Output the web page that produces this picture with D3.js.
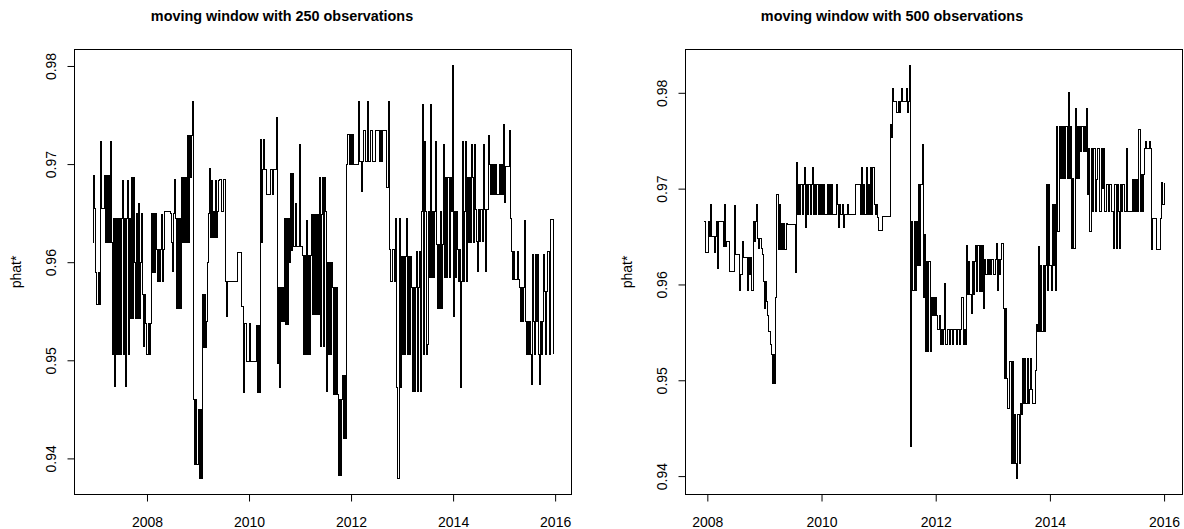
<!DOCTYPE html>
<html>
<head>
<meta charset="utf-8">
<script src="https://cdn.jsdelivr.net/npm/d3@7"></script>
<style>
  html, body { margin: 0; padding: 0; background: #fff; }
  svg { display: block; font-family: 'Liberation Sans', Arial, Helvetica, sans-serif; }
</style>
</head>
<body>
<div id="chart"><svg width="1184" height="529"></svg></div>
<script>
// phat* series, one value every STEP years from the start year
const STEP = 0.02;
const LEFT_START = 2006.94;
const RIGHT_START = 2007.94;

const LEFT_VALUES = [
  .9620,.9688,.9655,.9590,.9557,.9590,.9557,.9723,.9655,.9655,
  .9655,.9688,.9620,.9688,.9620,.9688,.9620,.9723,.9620,.9506,
  .9645,.9473,.9645,.9506,.9645,.9506,.9645,.9506,.9645,.9683,
  .9506,.9645,.9473,.9645,.9683,.9506,.9645,.9543,.9686,.9543,
  .9686,.9600,.9543,.9650,.9543,.9660,.9543,.9600,.9650,.9567,
  .9514,.9567,.9538,.9506,.9538,.9506,.9538,.9650,.9590,.9650,
  .9590,.9650,.9613,.9580,.9613,.9580,.9613,.9649,.9580,.9613,
  .9652,.9652,.9652,.9652,.9652,.9652,.9650,.9620,.9591,.9650,
  .9684,.9645,.9553,.9645,.9553,.9645,.9553,.9686,.9620,.9686,
  .9620,.9686,.9620,.9729,.9620,.9729,.9686,.9729,.9764,.9460,
  .9394,.9460,.9394,.9450,.9380,.9450,.9380,.9567,.9513,.9567,
  .9513,.9540,.9600,.9650,.9696,.9625,.9683,.9625,.9652,.9625,
  .9683,.9625,.9652,.9683,.9684,.9684,.9652,.9652,.9684,.9684,
  .9580,.9545,.9580,.9580,.9580,.9580,.9580,.9580,.9580,.9580,
  .9580,.9580,.9610,.9610,.9610,.9610,.9555,.9555,.9467,.9537,
  .9537,.9499,.9499,.9537,.9499,.9499,.9499,.9499,.9499,.9499,
  .9535,.9467,.9535,.9467,.9725,.9620,.9694,.9725,.9694,.9694,
  .9669,.9669,.9669,.9669,.9694,.9694,.9669,.9694,.9694,.9694,
  .9747,.9497,.9574,.9472,.9574,.9540,.9574,.9540,.9645,.9536,
  .9645,.9536,.9645,.9600,.9690,.9612,.9690,.9616,.9616,.9660,
  .9616,.9616,.9720,.9616,.9616,.9607,.9506,.9607,.9506,.9642,
  .9506,.9607,.9506,.9607,.9649,.9547,.9649,.9547,.9649,.9547,
  .9649,.9547,.9686,.9514,.9649,.9686,.9514,.9686,.9652,.9468,
  .9600,.9506,.9600,.9506,.9600,.9574,.9465,.9574,.9465,.9574,
  .9465,.9383,.9460,.9383,.9460,.9485,.9420,.9485,.9420,.9700,
  .9730,.9700,.9730,.9700,.9730,.9700,.9700,.9700,.9700,.9700,
  .9764,.9703,.9703,.9672,.9703,.9734,.9734,.9703,.9703,.9764,
  .9703,.9703,.9734,.9734,.9703,.9703,.9703,.9734,.9734,.9734,
  .9734,.9703,.9734,.9703,.9734,.9734,.9734,.9734,.9676,.9676,
  .9764,.9613,.9580,.9580,.9613,.9613,.9580,.9645,.9472,.9380,
  .9645,.9472,.9606,.9506,.9606,.9506,.9606,.9645,.9506,.9606,
  .9506,.9606,.9574,.9468,.9574,.9468,.9574,.9611,.9468,.9574,
  .9611,.9468,.9652,.9761,.9506,.9723,.9652,.9506,.9516,.9652,
  .9584,.9761,.9584,.9652,.9584,.9652,.9723,.9618,.9553,.9618,
  .9553,.9652,.9553,.9618,.9720,.9584,.9686,.9584,.9686,.9584,
  .9686,.9652,.9800,.9545,.9652,.9584,.9652,.9613,.9580,.9613,
  .9472,.9580,.9723,.9580,.9652,.9723,.9580,.9686,.9620,.9686,
  .9620,.9720,.9686,.9620,.9720,.9654,.9621,.9591,.9654,.9621,
  .9654,.9654,.9621,.9720,.9654,.9591,.9654,.9654,.9729,.9700,
  .9669,.9700,.9669,.9700,.9669,.9700,.9669,.9669,.9700,.9669,
  .9700,.9669,.9740,.9661,.9698,.9698,.9698,.9698,.9734,.9645,
  .9611,.9582,.9611,.9582,.9582,.9582,.9611,.9582,.9574,.9540,
  .9574,.9540,.9574,.9642,.9540,.9506,.9540,.9506,.9540,.9506,
  .9475,.9608,.9540,.9506,.9608,.9540,.9608,.9506,.9475,.9540,
  .9506,.9540,.9608,.9570,.9506,.9570,.9611,.9506,.9644,.9644,
  .9644,.9506,
];

const RIGHT_VALUES = [
  .9666,.9633,.9633,.9633,.9666,.9650,.9683,.9650,.9650,.9633,
  .9650,.9666,.9617,.9666,.9666,.9666,.9666,.9640,.9683,.9640,
  .9645,.9645,.9614,.9614,.9614,.9614,.9614,.9682,.9631,.9631,
  .9631,.9594,.9610,.9610,.9645,.9628,.9628,.9628,.9594,.9628,
  .9610,.9628,.9594,.9666,.9645,.9666,.9683,.9648,.9638,.9648,
  .9638,.9631,.9603,.9575,.9603,.9582,.9568,.9551,.9537,.9527,
  .9497,.9527,.9497,.9586,.9694,.9636,.9683,.9636,.9664,.9636,
  .9664,.9636,.9664,.9663,.9663,.9663,.9663,.9663,.9663,.9663,
  .9612,.9727,.9673,.9704,.9673,.9704,.9673,.9704,.9722,.9659,
  .9704,.9673,.9704,.9673,.9704,.9722,.9673,.9704,.9673,.9704,
  .9673,.9704,.9673,.9704,.9673,.9704,.9673,.9673,.9704,.9673,
  .9704,.9673,.9704,.9673,.9673,.9673,.9704,.9683,.9659,.9683,
  .9673,.9683,.9659,.9673,.9673,.9673,.9683,.9673,.9673,.9673,
  .9673,.9673,.9673,.9704,.9704,.9704,.9704,.9673,.9722,.9673,
  .9704,.9673,.9722,.9673,.9704,.9673,.9722,.9673,.9722,.9683,
  .9673,.9683,.9670,.9656,.9656,.9656,.9671,.9671,.9671,.9671,
  .9671,.9671,.9671,.9767,.9753,.9804,.9791,.9791,.9791,.9779,
  .9791,.9779,.9791,.9804,.9791,.9791,.9791,.9804,.9779,.9791,
  .9828,.9431,.9666,.9594,.9666,.9594,.9666,.9620,.9704,.9620,
  .9704,.9746,.9586,.9652,.9530,.9624,.9530,.9624,.9530,.9586,
  .9568,.9586,.9568,.9586,.9568,.9553,.9568,.9537,.9553,.9537,
  .9553,.9601,.9537,.9553,.9553,.9537,.9553,.9553,.9537,.9553,
  .9553,.9537,.9553,.9553,.9537,.9553,.9586,.9537,.9553,.9537,
  .9641,.9589,.9624,.9589,.9570,.9624,.9589,.9624,.9641,.9593,
  .9641,.9593,.9641,.9593,.9641,.9575,.9626,.9610,.9626,.9610,
  .9626,.9610,.9626,.9626,.9610,.9626,.9643,.9594,.9626,.9610,
  .9626,.9643,.9575,.9502,.9575,.9502,.9471,.9471,.9520,.9413,
  .9520,.9413,.9464,.9413,.9398,.9464,.9413,.9476,.9464,.9523,
  .9476,.9523,.9476,.9523,.9476,.9490,.9523,.9490,.9476,.9476,
  .9510,.9558,.9551,.9640,.9551,.9620,.9551,.9620,.9551,.9620,
  .9704,.9594,.9704,.9620,.9594,.9683,.9620,.9683,.9594,.9765,
  .9655,.9765,.9711,.9765,.9711,.9765,.9711,.9765,.9711,.9800,
  .9711,.9765,.9638,.9711,.9638,.9784,.9711,.9765,.9711,.9765,
  .9739,.9765,.9739,.9765,.9739,.9784,.9694,.9742,.9655,.9742,
  .9676,.9742,.9742,.9676,.9710,.9742,.9676,.9676,.9742,.9700,
  .9742,.9676,.9676,.9704,.9676,.9704,.9704,.9676,.9676,.9638,
  .9704,.9638,.9704,.9676,.9638,.9704,.9676,.9704,.9676,.9676,
  .9742,.9676,.9676,.9676,.9676,.9710,.9676,.9710,.9676,.9710,
  .9676,.9762,.9676,.9715,.9676,.9715,.9742,.9749,.9742,.9742,
  .9749,.9742,.9636,.9669,.9669,.9669,.9636,.9636,.9636,.9636,
  .9669,.9706,.9683,.9706,
];

const X_TICKS = [2008, 2010, 2012, 2014, 2016];
const Y_TICKS = [0.94, 0.95, 0.96, 0.97, 0.98];
const TITLES = ['moving window with 250 observations', 'moving window with 500 observations'];
const Y_LABEL = 'phat*';

const SVG = d3.select('#chart svg');
const TOP = 49.5;
const BOTTOM = 494.5;
const TICK = 7;
const FONT = 14;

// layout of the two panels
const PANELS = [
  { values: LEFT_VALUES, start: LEFT_START, title: TITLES[0], left: 74.5, right: 571.5, titleX: 282, ylabX: 21 },
  { values: RIGHT_VALUES, start: RIGHT_START, title: TITLES[1], left: 685.5, right: 1182.5, titleX: 892, ylabX: 632 },
];

// R style axis range: data extent widened by 4% on each side
const pad = (ext) => {
  const d = (ext[1] - ext[0]) * 0.04;
  return [ext[0] - d, ext[1] + d];
};

PANELS.forEach((p) => {
  const data = p.values.map((v, i) => ({ t: p.start + i * STEP, v }));

  const X_SCALE = d3.scaleLinear()
    .domain(pad(d3.extent(data, (d) => d.t)))
    .range([p.left, p.right]);
  const Y_SCALE = d3.scaleLinear()
    .domain(pad(d3.extent(data, (d) => d.v)))
    .range([BOTTOM, TOP]);

  const G = SVG.append('g');

  // x axis
  const X_AXIS_G = G.append('g')
    .attr('transform', `translate(0, ${BOTTOM})`)
    .call(d3.axisBottom(X_SCALE).tickValues(X_TICKS).tickFormat(d3.format('d')).tickSize(TICK).tickSizeOuter(0));
  X_AXIS_G.attr('font-family', null).attr('font-size', FONT);
  X_AXIS_G.select('.domain').remove();
  X_AXIS_G.selectAll('line').attr('stroke', '#000');
  X_AXIS_G.selectAll('text').attr('y', 32).attr('dy', null).attr('fill', '#000');

  // y axis, labels turned like R's las = 0
  const Y_AXIS_G = G.append('g')
    .attr('transform', `translate(${p.left}, 0)`)
    .call(d3.axisLeft(Y_SCALE).tickValues(Y_TICKS).tickFormat(d3.format('.2f')).tickSize(TICK).tickSizeOuter(0));
  Y_AXIS_G.attr('font-family', null).attr('font-size', FONT);
  Y_AXIS_G.select('.domain').remove();
  Y_AXIS_G.selectAll('line').attr('stroke', '#000');
  Y_AXIS_G.selectAll('text')
    .attr('x', null)
    .attr('dy', null)
    .attr('transform', 'translate(-19, 0) rotate(-90)')
    .attr('text-anchor', 'middle')
    .attr('fill', '#000');

  // series
  G.append('path')
    .datum(data)
    .attr('d', d3.line().x((d) => X_SCALE(d.t)).y((d) => Y_SCALE(d.v)).curve(d3.curveStepAfter))
    .attr('fill', 'none')
    .attr('stroke', '#000')
    .attr('stroke-width', 1)
    .attr('shape-rendering', 'crispEdges');

  // box
  G.append('rect')
    .attr('x', p.left)
    .attr('y', TOP)
    .attr('width', p.right - p.left)
    .attr('height', BOTTOM - TOP)
    .attr('fill', 'none')
    .attr('stroke', '#000');

  G.append('text')
    .text(p.title)
    .attr('x', p.titleX)
    .attr('y', 21)
    .attr('text-anchor', 'middle')
    .style('font-size', '14.4px')
    .style('font-weight', 'bold');

  G.append('text')
    .text(Y_LABEL)
    .attr('transform', `translate(${p.ylabX}, ${(TOP + BOTTOM) / 2}) rotate(-90)`)
    .attr('text-anchor', 'middle')
    .style('font-size', `${FONT}px`);
});
</script>
</body>
</html>
